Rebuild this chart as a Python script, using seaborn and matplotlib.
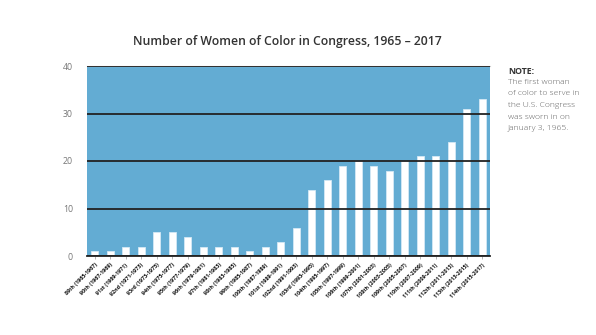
import matplotlib
matplotlib.use("Agg")
import matplotlib.pyplot as plt
import seaborn as sns
import pandas as pd

congresses = ["89th (1965-1967)", "90th (1967-1969)", "91st (1969-1971)", "92nd (1971-1973)",
              "93rd (1973-1975)", "94th (1975-1977)", "95th (1977-1979)", "96th (1979-1981)",
              "97th (1981-1983)", "98th (1983-1985)", "99th (1985-1987)", "100th (1987-1989)",
              "101st (1989-1991)", "102nd (1991-1993)", "103rd (1993-1995)", "104th (1995-1997)",
              "105th (1997-1999)", "106th (1999-2001)", "107th (2001-2003)", "108th (2003-2005)",
              "109th (2005-2007)", "110th (2007-2009)", "111th (2009-2011)", "112th (2011-2013)",
              "113th (2013-2015)", "114th (2015-2017)"]
women = [1, 1, 2, 2, 5, 5, 4, 2, 2, 2, 1, 2, 3, 6, 14, 16, 19, 20, 19, 18, 20, 21, 21, 24, 31, 33]
y_ticks = [0, 10, 20, 30, 40]
title = "Number of Women of Color in Congress, 1965 \u2013 2017"
note_head = "NOTE:"
note_body = "The first woman\nof color to serve in\nthe U.S. Congress\nwas sworn in on\nJanuary 3, 1965."

sns.set_theme(style="white")
plt.rcParams["font.family"] = ["Open Sans", "DejaVu Sans"]

df = pd.DataFrame({"congress": congresses, "women": women})

fig = plt.figure(figsize=(5.96, 3.35), dpi=100)
ax = fig.add_axes([87/596, 1-256/335, (490-87)/596, (256-66)/335])
ax.set_facecolor("#63acd3")

sns.barplot(data=df, x="congress", y="women", color="white", width=0.45,
            edgecolor="#d4e9f5", linewidth=0.6, saturation=1, ax=ax, zorder=2)

ax.set_ylim(0, 40)
ax.set_xlim(-0.5, len(congresses) - 0.5)
ax.set_yticks(y_ticks)
ax.set_yticklabels([str(t) for t in y_ticks], color="#777777", fontsize=6.3)
for t in y_ticks:
    ax.axhline(t, color="#222222", lw=1.3, zorder=3)

ax.set_xticks(range(len(congresses)))
ax.set_xticklabels(congresses, rotation=45, ha="right", rotation_mode="anchor",
                   fontsize=3.9, fontweight="bold", color="#111111")
ax.tick_params(axis="x", length=2, width=0.5, color="#999999", pad=2.5, bottom=True)
ax.tick_params(axis="y", length=0, pad=10)
ax.set_xlabel("")
ax.set_ylabel("")

for s in ["left", "right"]:
    ax.spines[s].set_visible(False)
ax.spines["top"].set_color("#cccccc")
ax.spines["top"].set_linewidth(0.8)
ax.spines["bottom"].set_color("#222222")
ax.spines["bottom"].set_linewidth(1.3)

fig.text(287/596, 1-42/335, title, ha="center", va="center", fontsize=8.8,
         fontweight="semibold", color="#333333")
fig.text(508/596, 1-72/335, note_head, ha="left", va="center", fontsize=6.3,
         fontweight="bold", color="#333333")
fig.text(508/596, 1-78.5/335, note_body, ha="left", va="top", fontsize=6.1,
         fontweight="light", color="#666666", linespacing=1.95)

fig.savefig("out.png", dpi=100)
